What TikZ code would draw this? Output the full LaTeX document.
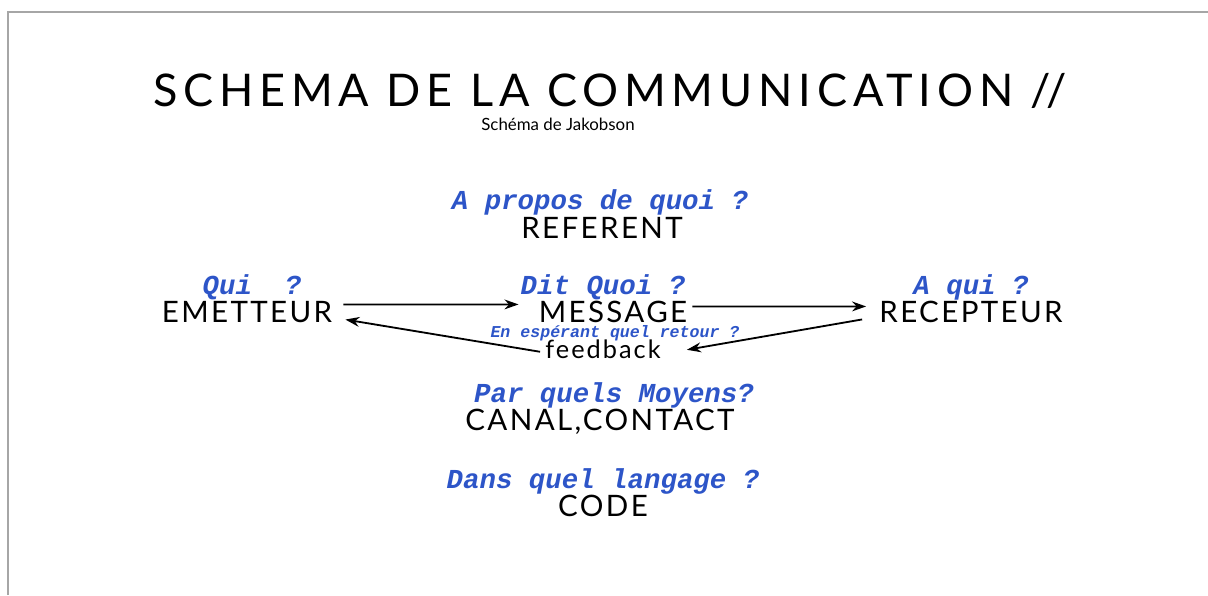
\documentclass[tikz,border=0pt]{standalone}
\usepackage{fontspec}
\setmainfont{Lato}
\newfontfamily\courierfont{Liberation Mono}
\newfontfamily\widefont[LetterSpace=8]{Lato}
\newfontfamily\titlefont[LetterSpace=13]{Lato}
\usetikzlibrary{arrows.meta,calc}
\definecolor{qblue}{RGB}{45,85,200}

\begin{document}
\begin{tikzpicture}[x=0.025cm,y=-0.025cm,
    word/.style={font=\widefont\fontsize{21}{23}\selectfont, inner sep=0pt, anchor=base},
    ask/.style={font=\courierfont\bfseries\itshape\fontsize{19.5}{22}\selectfont, text=qblue, inner sep=0pt, anchor=base},
    arr/.style={-{Stealth[length=10pt,width=7pt]}, line width=1.3pt}]
    \useasboundingbox (0,0) rectangle (1208,595);
    % slide frame
    \draw[gray!70, line width=1.5pt] (8,595) -- (8,12) -- (1208,12);

    % title
    \node[font=\titlefont\fontsize{32}{36}\selectfont, inner sep=0pt, anchor=base] (title) at (610,106) {SCHEMA DE LA COMMUNICATION //};
    \node[font=\fontsize{12}{14}\selectfont, inner sep=0pt, anchor=base] (sub) at (558,130) {Schéma de Jakobson};

    % referent
    \node[ask] (qref) at (600,209) {A propos de quoi ?};
    \node[word] (ref) at (602,238) {REFERENT};

    % emetteur / message / recepteur
    \node[ask] (qemet) at (252,294) {Qui\ \ ?};
    \node[word] (emet) at (247,322) {EMETTEUR};
    \node[ask] (qmess) at (603,294) {Dit Quoi ?};
    \node[word] (mess) at (613,322) {MESSAGE};
    \node[ask] (qrec) at (971,294) {A qui ?};
    \node[word] (rec) at (971,322) {RECEPTEUR};

    % feedback
    \node[ask, font=\courierfont\bfseries\itshape\fontsize{11.8}{14}\selectfont] (qfb) at (615,337) {En espérant quel retour ?};
    \node[font=\widefont\fontsize{18}{20}\selectfont, inner sep=0pt, anchor=base] (fb) at (603,358) {feedback};

    % arrows
    \draw[arr] ($(emet.east)+(11,-7)$) -- ($(mess.west)+(-20,-7)$);
    \draw[arr] ($(mess.east)+(5,-5)$) -- ($(rec.west)+(-13,-5)$);
    \draw[arr] ($(rec.west)+(-17,8)$) -- ($(fb.east)+(26,1)$);
    \draw[arr] ($(fb.west)+(-5,3)$) -- ($(emet.east)+(13,8)$);

    % canal
    \node[ask] (qcanal) at (614,402) {Par quels Moyens?};
    \node[word] (canal) at (600,430) {CANAL,CONTACT};

    % code
    \node[ask] (qcode) at (603,488) {Dans quel langage ?};
    \node[word] (code) at (603,516) {CODE};
\end{tikzpicture}
\end{document}
